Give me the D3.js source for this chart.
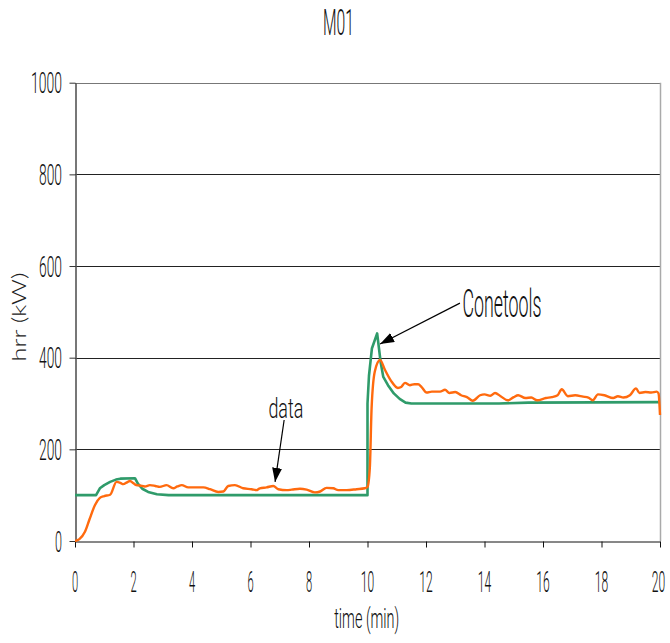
<!DOCTYPE html>
<html>
<head>
<meta charset="utf-8">
<script src="https://cdn.jsdelivr.net/npm/d3@7"></script>
<style>
  html, body { margin: 0; padding: 0; background: #fff; }
  svg { display: block; }
  .cond { font-family: Roboto, "Liberation Sans", sans-serif; font-weight: 300; fill: #111; }
</style>
</head>
<body>
<svg id="chart" width="670" height="643"></svg>
<script>
// ---- data ----
const title = "M01";
const xTicks = [0, 2, 4, 6, 8, 10, 12, 14, 16, 18, 20];
const yTicks = [0, 200, 400, 600, 800, 1000];
const xLabel = "time (min)";
const yLabel = "hrr (kW)";

const dataTime = [0, 0.15, 0.34, 0.5, 0.68, 0.85, 1.0, 1.2, 1.42, 1.55, 1.65, 1.78, 1.88, 2.0, 2.1, 2.22, 2.39, 2.56, 2.75, 2.9,
  3.13, 3.36, 3.5, 3.65, 3.87, 4.16, 4.39, 4.62, 4.9, 5.07, 5.24, 5.47, 5.75, 6.04, 6.2, 6.32, 6.55, 6.78, 6.95, 7.24,
  7.41, 7.69, 7.92, 8.2, 8.38, 8.6, 8.83, 9.0, 9.29, 9.63, 9.91, 10.0, 10.08, 10.14, 10.25, 10.43, 10.6, 10.8, 11.04, 11.15,
  11.28, 11.45, 11.6, 11.73, 11.85, 12.02, 12.2, 12.48, 12.65, 12.8, 13.0, 13.2, 13.4, 13.6, 13.85, 14.0, 14.2, 14.36, 14.55, 14.8,
  15.0, 15.15, 15.4, 15.6, 15.8, 16.1, 16.3, 16.5, 16.64, 16.85, 17.1, 17.37, 17.55, 17.7, 17.88, 18.1, 18.4, 18.56, 18.75, 18.97,
  19.18, 19.3, 19.5, 19.7, 19.89, 19.95, 20.0];
const dataHrr = [0, 4, 20, 48, 78, 94, 98, 101, 129, 127, 124, 128, 131, 126, 122, 121, 119, 122, 120, 118,
  122, 115, 119, 122, 117, 117, 117, 113, 107, 108, 120, 122, 115, 113, 111, 115, 117, 120, 113, 111,
  112, 114, 112, 106, 108, 116, 115, 111, 111, 113, 115, 118, 160, 290, 370, 395, 373, 350, 334, 336,
  345, 340, 342, 342, 336, 324, 326, 326, 330, 323, 325, 318, 314, 306, 318, 320, 317, 323, 316, 307,
  314, 318, 312, 313, 307, 312, 314, 318, 331, 316, 318, 315, 313, 307, 320, 318, 312, 316, 313, 318,
  333, 323, 325, 324, 326, 322, 275];

const coneTime = [0, 0.72, 0.85, 1.0, 1.2, 1.4, 1.55, 2.05, 2.15, 2.3, 2.5, 2.8, 3.2, 10.0, 10.0, 10.05, 10.15, 10.33, 10.45, 10.54,
  10.7, 10.9, 11.1, 11.3, 11.5, 14.5, 15.5, 20];
const coneHrr = [100, 100, 115, 122, 129, 134, 136, 137, 125, 114, 107, 102, 100, 100, 300, 360, 420, 453, 390, 358,
  340, 322, 310, 302, 300, 300, 302, 303];

// annotations: label, text position (t, hrr), arrow tail (t, hrr), arrow tip (t, hrr)
const annLabels = ["Conetools", "data"];
const annText = [[13.25, 489], [7.21, 268]];
const annTail = [[13.16, 519], [7.15, 264]];
const annTip = [[10.43, 430], [6.84, 129]];

// ---- layout ----
const svg = d3.select("#chart");
const x = d3.scaleLinear().domain([0, 20]).range([75, 660]);
const y = d3.scaleLinear().domain([0, 1000]).range([541, 82.7]);

function cond(sel, size, width) {
  sel.attr("class", "cond").style("font-size", size + "px");
  if (width) sel.attr("textLength", width).attr("lengthAdjust", "spacingAndGlyphs");
  return sel;
}

// gridlines
svg.append("g").selectAll("line").data(yTicks.filter(d => d > 0)).join("line")
  .attr("x1", x(0)).attr("x2", x(20))
  .attr("y1", d => Math.round(y(d)) + 0.5).attr("y2", d => Math.round(y(d)) + 0.5)
  .attr("stroke", d => d === 1000 ? "#777" : "#222").attr("stroke-width", 1);

// right border
svg.append("line").attr("x1", Math.round(x(20)) + 0.5).attr("x2", Math.round(x(20)) + 0.5)
  .attr("y1", y(1000)).attr("y2", y(0)).attr("stroke", "#aaa").attr("stroke-width", 1.5);

// axes
const xAxis = svg.append("g").attr("transform", `translate(0,${Math.round(y(0)) + 0.5})`)
  .call(d3.axisBottom(x).tickValues(xTicks).tickSize(6).tickSizeOuter(0).tickFormat(() => ""));
xAxis.select(".domain").attr("stroke", "#111");
xAxis.selectAll(".tick line").attr("stroke", "#111");

const yAxis = svg.append("g").attr("transform", `translate(${Math.round(x(0)) + 0.5},0)`)
  .call(d3.axisLeft(y).tickValues(yTicks).tickSize(6).tickSizeOuter(0).tickFormat(() => ""));
yAxis.select(".domain").attr("stroke", "#555").attr("stroke-width", 1.6);
yAxis.selectAll(".tick line").attr("stroke", "#333");

// tick labels
svg.append("g").selectAll("text").data(xTicks).join("text")
  .call(s => cond(s, 29))
  .attr("x", d => x(d) - (d === 20 ? 1.5 : 0)).attr("y", 592)
  .attr("text-anchor", "middle")
  .attr("textLength", d => String(d).length * 7.2 - 1)
  .attr("lengthAdjust", "spacingAndGlyphs")
  .text(d => d);

svg.append("g").selectAll("text").data(yTicks).join("text")
  .call(s => cond(s, 29))
  .attr("x", 62).attr("y", d => y(d) + 10.5)
  .attr("text-anchor", "end")
  .attr("textLength", d => String(d).length * 8 - 1)
  .attr("lengthAdjust", "spacingAndGlyphs")
  .text(d => d);

// title & axis labels
cond(svg.append("text"), 37, 31).attr("x", 338.5).attr("y", 35).attr("text-anchor", "middle").text(title);
cond(svg.append("text"), 28, 65).attr("x", 366.7).attr("y", 628).attr("text-anchor", "middle").text(xLabel);
svg.append("text")
  .attr("transform", "translate(26,317) rotate(-90)")
  .attr("text-anchor", "middle")
  .style("font-family", "Lato, 'DejaVu Sans', sans-serif").style("font-weight", 300)
  .style("font-size", "20px").attr("fill", "#222")
  .attr("textLength", 89).attr("lengthAdjust", "spacingAndGlyphs")
  .text(yLabel);

// lines
svg.append("clipPath").attr("id", "plotclip").append("rect")
  .attr("x", x(0)).attr("y", y(1000)).attr("width", x(20) - x(0) + 2).attr("height", y(0) - y(1000) + 2);

const coneSeries = coneTime.map((t, i) => [t, coneHrr[i]]);
const dataSeries = dataTime.map((t, i) => [t, dataHrr[i]]);

svg.append("path").datum(coneSeries).attr("d", d3.line().x(d => x(d[0])).y(d => y(d[1])))
  .attr("fill", "none").attr("stroke", "#2f9b6a").attr("stroke-width", 2.6)
  .attr("stroke-linejoin", "round").attr("clip-path", "url(#plotclip)");
svg.append("path").datum(dataSeries).attr("d", d3.line().x(d => x(d[0])).y(d => y(d[1])).curve(d3.curveMonotoneX))
  .attr("fill", "none").attr("stroke", "#ff6a0e").attr("stroke-width", 2.4)
  .attr("stroke-linejoin", "round").attr("clip-path", "url(#plotclip)");

// annotations
svg.append("defs").append("marker").attr("id", "arrow")
  .attr("viewBox", "0 0 14 10").attr("refX", 14).attr("refY", 5)
  .attr("markerWidth", 14).attr("markerHeight", 10).attr("markerUnits", "userSpaceOnUse")
  .attr("orient", "auto")
  .append("path").attr("d", "M0,0 L14,5 L0,10 Z").attr("fill", "#000");

annLabels.forEach((lab, i) => {
  svg.append("line")
    .attr("x1", x(annTail[i][0])).attr("y1", y(annTail[i][1]))
    .attr("x2", x(annTip[i][0])).attr("y2", y(annTip[i][1]))
    .attr("stroke", "#000").attr("stroke-width", 1.2).attr("marker-end", "url(#arrow)");
});
cond(svg.append("text"), 39, 79).attr("x", x(annText[0][0])).attr("y", y(annText[0][1])).text(annLabels[0]);
cond(svg.append("text"), 28, 35).attr("x", x(annText[1][0])).attr("y", y(annText[1][1])).attr("text-anchor", "middle").text(annLabels[1]);
</script>
</body>
</html>
